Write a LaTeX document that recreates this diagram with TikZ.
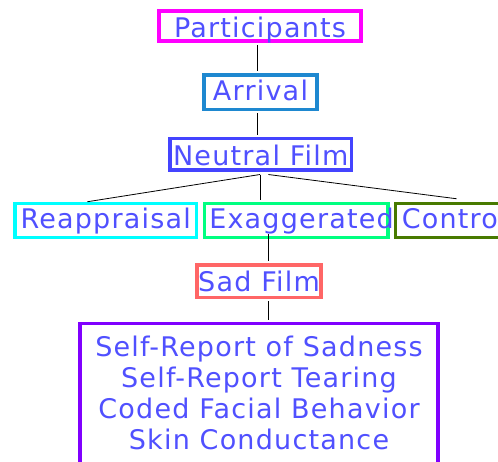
\documentclass[tikz,border=0pt]{standalone}
\usepackage{fontspec}
\setmainfont{DejaVu Sans}[LetterSpace=4.5]
\usetikzlibrary{calc}
\definecolor{txt}{RGB}{80,80,255}
\definecolor{cmag}{RGB}{255,0,255}
\definecolor{carr}{RGB}{30,136,208}
\definecolor{cneu}{RGB}{68,68,255}
\definecolor{ccyan}{RGB}{0,255,255}
\definecolor{cexa}{RGB}{0,255,128}
\definecolor{cctl}{RGB}{72,122,0}
\definecolor{csad}{RGB}{255,102,102}
\definecolor{cpur}{RGB}{128,0,255}
\tikzset{
  box/.style={draw, line width=3.5pt, inner sep=0pt, text=txt,
    font=\fontsize{27}{31}\selectfont, fill=white, text depth=0pt, text height=19.6pt},
  conn/.style={draw=black, line width=0.8pt},
}
\begin{document}
\begin{tikzpicture}[x=1pt,y=-1pt]
\useasboundingbox (0,0) rectangle (498,461);
\clip (0,0) rectangle (498,461);
\fill[white] (0,0) rectangle (498,461);
\node[box, draw=cmag, minimum width=202pt, minimum height=30pt, text height=22.7pt] (part) at (260,26) {Participants};
\node[box, draw=carr, minimum width=113pt, minimum height=34.5pt, text height=17.4pt] (arr) at (260.5,92) {Arrival};
\node[box, draw=cneu, minimum width=181.5pt, minimum height=31.5pt, text height=22pt] (neu) at (260.7,154) {Neutral Film};
\node[box, draw=ccyan, minimum width=181.5pt, minimum height=34pt, text height=15.6pt] (rea) at (105.7,220.5) {Reappraisal};
\node[box, draw=cexa, minimum height=34pt, text height=15.6pt, inner xsep=5pt, text width=173.5pt, align=left] (exa) at (296,220.5) {Exaggerated};
\node[box, draw=cctl, minimum height=34pt, text height=15.6pt, inner xsep=6.5pt, text width=110pt, align=left, anchor=west] (ctl) at (393.5,220.5) {Control};
\node[box, draw=csad, minimum width=124pt, minimum height=32.5pt, text height=20pt] (sad) at (259,281) {Sad Film};
\node[box, draw=cpur, minimum width=358pt, anchor=north, align=center, text height=, text depth=, inner ysep=13pt] (out) at (259,321.5)
  {Self-Report of Sadness\\Self-Report Tearing\\Coded Facial Behavior\\Skin Conductance\\ };
\draw[conn] ($(part.south)+(-3,2)$) -- ($(arr.north)+(-3.5,-2)$);
\draw[conn] ($(arr.south)+(-3.5,2)$) -- ($(neu.north)+(-3.7,-2)$);
\draw[conn] ($(neu.south)+(-0.7,3)$) -- ($(rea.north)+(-18.4,0)$);
\draw[conn] ($(neu.south)+(0,3)$) -- ($(exa.north)+(-35.3,-2)$);
\draw[conn] ($(neu.south)+(7.6,3)$) -- ($(ctl.north)+(-0.2,-3)$);
\draw[conn] ($(exa.south)+(-28,-5)$) -- ($(sad.north)+(9,-2)$);
\draw[conn] ($(sad.south)+(9,2)$) -- ($(out.north)+(9,-2)$);
\end{tikzpicture}
\end{document}
